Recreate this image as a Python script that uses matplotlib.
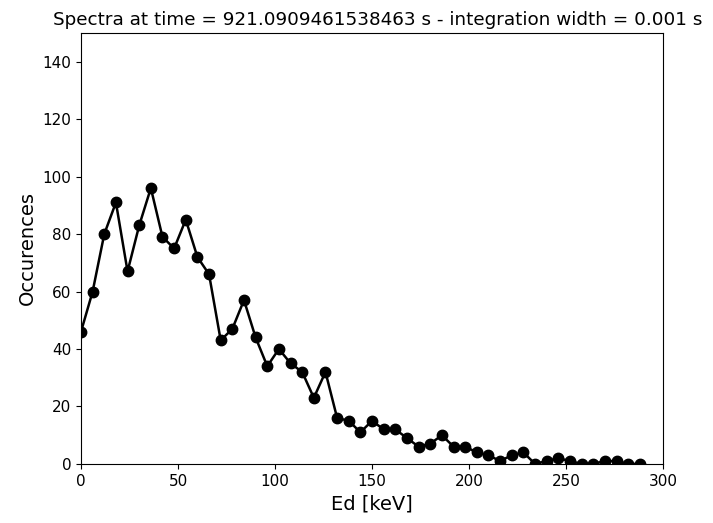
import matplotlib.pyplot as plt

# 能量 (keV) 与计数
energy = [0, 6, 12, 18, 24, 30, 36, 42, 48, 54, 60, 66, 72, 78, 84, 90, 96,
          102, 108, 114, 120, 126, 132, 138, 144, 150, 156, 162, 168, 174,
          180, 186, 192, 198, 204, 210, 216, 222, 228, 234, 240, 246, 252,
          258, 264, 270, 276, 282, 288]
counts = [46, 60, 80, 91, 67, 83, 96, 79, 75, 85, 72, 66, 43, 47, 57, 44, 34,
          40, 35, 32, 23, 32, 16, 15, 11, 15, 12, 12, 9, 6,
          7, 10, 6, 6, 4, 3, 1, 3, 4, 0, 1, 2, 1,
          0, 0, 1, 1, 0, 0]

fig = plt.figure(figsize=(7.13, 5.23), dpi=100)
ax = fig.add_axes([0.1136, 0.113, 0.8164, 0.824])
ax.plot(energy, counts, color='black', marker='o', markersize=7.5, linewidth=1.8)
ax.set_xlim(0, 300)
ax.set_ylim(0, 150)
ax.set_xticks([0, 50, 100, 150, 200, 250, 300])
ax.set_yticks([0, 20, 40, 60, 80, 100, 120, 140])
ax.tick_params(labelsize=11)
ax.set_xlabel('Ed [keV]', fontsize=14)
ax.set_ylabel('Occurences', fontsize=14)
ax.set_title('Spectra at time = 921.0909461538463 s - integration width = 0.001 s',
             fontsize=13.2, x=0.51)
fig.savefig('out.png', dpi=100)
